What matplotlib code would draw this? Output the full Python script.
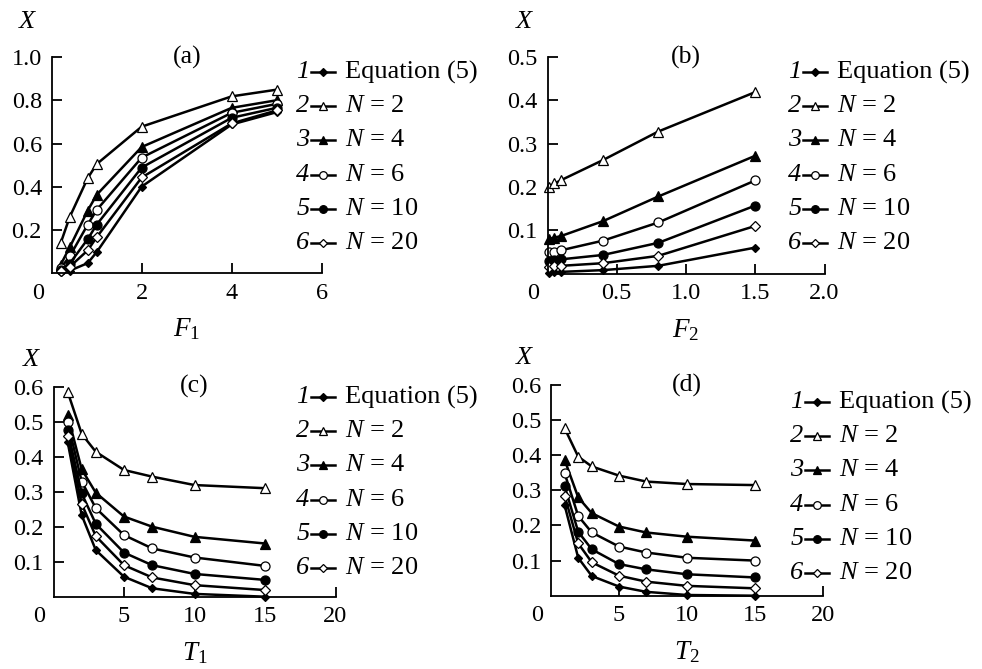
import matplotlib
matplotlib.use("Agg")
import matplotlib.pyplot as plt
from matplotlib.lines import Line2D

plt.rcParams['font.family'] = ['Liberation Serif', 'DejaVu Serif']
plt.rcParams['mathtext.fontset'] = 'custom'
plt.rcParams['mathtext.rm'] = 'Liberation Serif'
plt.rcParams['mathtext.it'] = 'Liberation Serif:italic'

# ---- data ----
labels = ['Equation (5)', '$N$ = 2', '$N$ = 4', '$N$ = 6', '$N$ = 10', '$N$ = 20']

# (a) X vs F1
xa = [0.2, 0.4, 0.8, 1.0, 2, 4, 5]
a_eq5 = [0.005, 0.012, 0.047, 0.098, 0.401, 0.688, 0.745]
a_n2 = [0.14, 0.26, 0.44, 0.505, 0.678, 0.818, 0.849]
a_n4 = [0.04, 0.12, 0.29, 0.363, 0.584, 0.765, 0.80]
a_n6 = [0.025, 0.078, 0.225, 0.293, 0.535, 0.742, 0.783]
a_n10 = [0.015, 0.045, 0.158, 0.225, 0.489, 0.719, 0.765]
a_n20 = [0.01, 0.03, 0.106, 0.167, 0.443, 0.693, 0.753]

# (b) X vs F2
xb = [0.01, 0.05, 0.1, 0.4, 0.8, 1.5]
b_eq5 = [0.002, 0.003, 0.004, 0.008, 0.018, 0.06]
b_n2 = [0.200, 0.208, 0.216, 0.262, 0.328, 0.419]
b_n4 = [0.080, 0.083, 0.087, 0.121, 0.178, 0.272]
b_n6 = [0.050, 0.051, 0.054, 0.076, 0.118, 0.215]
b_n10 = [0.030, 0.031, 0.033, 0.043, 0.071, 0.157]
b_n20 = [0.016, 0.017, 0.018, 0.024, 0.041, 0.110]

# (c) X vs T1
xc = [1, 2, 3, 5, 7, 10, 15]
c_eq5 = [0.443, 0.233, 0.133, 0.057, 0.024, 0.008, 0.0]
c_n2 = [0.586, 0.465, 0.414, 0.362, 0.343, 0.319, 0.31]
c_n4 = [0.519, 0.364, 0.297, 0.229, 0.200, 0.171, 0.152]
c_n6 = [0.500, 0.329, 0.253, 0.176, 0.138, 0.112, 0.088]
c_n10 = [0.476, 0.295, 0.208, 0.126, 0.090, 0.065, 0.048]
c_n20 = [0.459, 0.265, 0.173, 0.090, 0.055, 0.033, 0.019]

# (d) X vs T2
xd = [1, 2, 3, 5, 7, 10, 15]
d_eq5 = [0.258, 0.108, 0.056, 0.026, 0.011, 0.002, 0.0]
d_n2 = [0.477, 0.396, 0.368, 0.342, 0.325, 0.318, 0.315]
d_n4 = [0.387, 0.280, 0.235, 0.197, 0.180, 0.168, 0.157]
d_n6 = [0.349, 0.227, 0.180, 0.140, 0.123, 0.108, 0.100]
d_n10 = [0.312, 0.182, 0.132, 0.090, 0.075, 0.061, 0.052]
d_n20 = [0.285, 0.149, 0.095, 0.057, 0.040, 0.028, 0.021]

# marker styles for the six curves
styles = [
    dict(marker='D', ms=4.5, mfc='black'),
    dict(marker='^', ms=7, mfc='white'),
    dict(marker='^', ms=7, mfc='black'),
    dict(marker='o', ms=6.5, mfc='white'),
    dict(marker='o', ms=6.5, mfc='black'),
    dict(marker='D', ms=5, mfc='white'),
]

W, H = 982, 669
fig = plt.figure(figsize=(W / 100, H / 100), dpi=100)


def px(x0, y0, x1, y1):
    # pixel box (from top-left) -> figure fraction rect
    return [x0 / W, 1 - y1 / H, (x1 - x0) / W, (y1 - y0) / H]


panels = [
    dict(rect=px(51.7, 57, 321.7, 273.3), x=xa, ys=[a_eq5, a_n2, a_n4, a_n6, a_n10, a_n20],
         xlim=6, ylim=1.0, xt=[2, 4, 6], yt=[0.2, 0.4, 0.6, 0.8, 1.0],
         tag='(a)', xlabel='$F_1$', leg=(303, 72), xoff=(-17, 25)),
    dict(rect=px(547.5, 57, 824.5, 273.6), x=xb, ys=[b_eq5, b_n2, b_n4, b_n6, b_n10, b_n20],
         xlim=2.0, ylim=0.5, xt=[0.5, 1.0, 1.5, 2.0], yt=[0.1, 0.2, 0.3, 0.4, 0.5],
         tag='(b)', xlabel='$F_2$', leg=(795, 72), xoff=(-16, 25)),
    dict(rect=px(53.5, 386.7, 335.5, 596.7), x=xc, ys=[c_eq5, c_n2, c_n4, c_n6, c_n10, c_n20],
         xlim=20, ylim=0.6, xt=[5, 10, 15, 20], yt=[0.1, 0.2, 0.3, 0.4, 0.5, 0.6],
         tag='(c)', xlabel='$T_1$', leg=(303, 397), xoff=(-15.5, 19)),
    dict(rect=px(551, 385, 823, 595.7), x=xd, ys=[d_eq5, d_n2, d_n4, d_n6, d_n10, d_n20],
         xlim=20, ylim=0.6, xt=[5, 10, 15, 20], yt=[0.1, 0.2, 0.3, 0.4, 0.5, 0.6],
         tag='(d)', xlabel='$T_2$', leg=(797, 402), xoff=(-19, 19.5)),
]

for p in panels:
    ax = fig.add_axes(p['rect'])
    for ys, st in zip(p['ys'], styles):
        ax.plot(p['x'], ys, color='black', lw=1.8, mec='black', mew=0.9,
                clip_on=False, **st)
    ax.set_xlim(0, p['xlim'])
    ax.set_ylim(0, p['ylim'])
    for s in ['top', 'right']:
        ax.spines[s].set_visible(False)
    for s in ['left', 'bottom']:
        ax.spines[s].set_linewidth(1.3)
    ax.set_xticks(p['xt'])
    ax.set_xticklabels([('%g' % v) if p['xlim'] > 5 else '%.1f' % v for v in p['xt']])
    ax.set_yticks(p['yt'])
    ax.set_yticklabels(['%.1f' % v for v in p['yt']])
    ax.tick_params(direction='in', length=7, width=1.3, labelsize=17.5, pad=7)
    ax.annotate('0', xy=(0, 0), xycoords='axes fraction', xytext=(-10, -7),
                textcoords='offset points', ha='center', va='top', fontsize=17.5)
    ax.text(0.5, 1.0, p['tag'], transform=ax.transAxes, ha='center', va='center',
            fontsize=18.5)
    ax.annotate('$X$', xy=(0, 1), xycoords='axes fraction', xytext=p['xoff'],
                textcoords='offset points', ha='center', va='center', fontsize=19)
    ax.set_xlabel(p['xlabel'], fontsize=19.5, labelpad=9)

    # hand-made legend: italic number, short line with marker, label
    nx, ny = p['leg']
    for i, (lab, st) in enumerate(zip(labels, styles)):
        yy = 1 - (ny + i * 34.2) / H
        fig.text(nx / W, yy, str(i + 1), fontsize=19, style='italic',
                 ha='center', va='center')
        fig.add_artist(Line2D([(nx + 8) / W, (nx + 32) / W], [yy, yy], color='black',
                              lw=1.8, transform=fig.transFigure))
        fig.add_artist(Line2D([(nx + 20) / W], [yy], color='black', mec='black',
                              mew=0.9, transform=fig.transFigure,
                              **{k: (v * 0.85 if k == 'ms' else v) for k, v in st.items()}))
        fig.text((nx + 42) / W, yy, lab, fontsize=19, ha='left', va='center')

fig.savefig('out.png', dpi=100)
